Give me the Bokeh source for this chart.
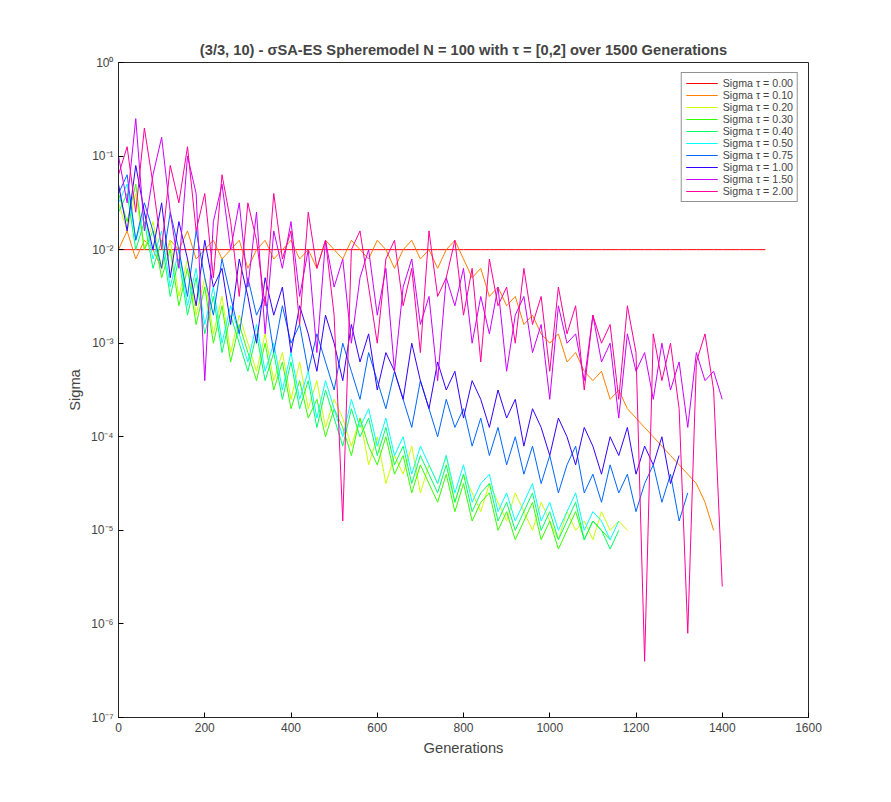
from bokeh.plotting import figure
from bokeh.models import FixedTicker, Range1d, Legend, LegendItem
from bokeh.embed import file_html
from bokeh.resources import INLINE

STEP = 20
taus = ["0.00", "0.10", "0.20", "0.30", "0.40", "0.50", "0.75", "1.00", "1.50", "2.00"]
colors = ["#ff0000", "#ff8000", "#ccff00", "#33ff00", "#00ff66", "#00ffff", "#0066ff", "#3300ff", "#cc00ff", "#ff0099"]

s000 = [-2.0] * 76
s010 = [-2.0,-1.8,-2.1,-1.9,-2.0,-2.2,-1.9,-2.0,-1.8,-2.1,-2.0,-1.9,-2.1,-2.0,-1.9,-2.2,-2.0,-1.9,-2.1,-2.0,-1.9,-2.1,-2.0,-2.2,-1.9,-2.0,-2.1,-1.9,-2.0,-2.1,-1.9,-2.0,-2.2,-2.0,-1.9,-2.1,-2.0,-2.2,-2.0,-1.9,-2.1,-2.3,-2.2,-2.5,-2.4,-2.6,-2.5,-2.8,-2.7,-2.9,-3.0,-2.9,-3.2,-3.1,-3.3,-3.4,-3.3,-3.6,-3.5,-3.7,-3.8,-3.9,-4.0,-4.1,-4.2,-4.3,-4.4,-4.5,-4.7,-5.0]
s020 = [-1.5,-1.8,-1.4,-2.0,-1.7,-2.2,-1.9,-2.5,-2.1,-2.7,-2.3,-2.9,-2.5,-3.1,-2.7,-3.0,-3.3,-2.9,-3.4,-3.1,-3.6,-3.2,-3.7,-3.4,-3.9,-3.6,-3.8,-4.1,-3.8,-4.3,-4.0,-4.5,-4.2,-4.4,-4.1,-4.6,-4.3,-4.5,-4.2,-4.7,-4.4,-4.6,-4.8,-4.5,-4.7,-4.9,-4.6,-4.8,-5.0,-4.7,-4.9,-5.1,-4.8,-5.0,-4.9,-5.1,-4.8,-5.0,-4.9,-5.0]
s030 = [-1.4,-1.7,-1.3,-2.0,-1.8,-2.3,-2.0,-2.6,-2.2,-2.8,-2.4,-3.0,-2.6,-3.2,-2.8,-3.1,-3.4,-3.0,-3.5,-3.2,-3.7,-3.4,-3.8,-3.6,-4.0,-3.7,-3.9,-4.2,-3.8,-4.1,-4.3,-4.0,-4.4,-4.2,-4.6,-4.3,-4.5,-4.7,-4.4,-4.8,-4.5,-4.9,-4.7,-4.6,-5.0,-4.8,-5.1,-4.9,-4.7,-5.1,-4.9,-5.2,-5.0,-4.8,-5.1,-4.9,-5.0,-5.1]
s040 = [-1.6,-1.4,-2.0,-1.7,-2.2,-1.9,-2.5,-2.1,-2.7,-2.3,-2.9,-2.5,-3.1,-2.7,-3.0,-3.3,-2.9,-3.4,-3.1,-3.6,-3.2,-3.7,-3.4,-3.9,-3.5,-3.8,-4.1,-3.7,-4.0,-3.8,-4.2,-3.9,-4.3,-4.1,-4.5,-4.2,-4.4,-4.6,-4.3,-4.7,-4.4,-4.8,-4.6,-4.5,-4.9,-4.7,-5.0,-4.8,-4.6,-5.0,-4.8,-5.1,-4.9,-4.7,-5.1,-4.9,-5.0,-5.2,-5.0]
s050 = [-1.5,-1.3,-1.9,-1.6,-2.1,-1.8,-2.4,-2.0,-2.6,-2.2,-2.8,-2.4,-3.0,-2.6,-2.9,-3.2,-2.8,-3.3,-3.0,-3.5,-3.1,-3.6,-3.3,-3.8,-3.4,-3.7,-4.0,-3.6,-3.9,-3.7,-4.1,-3.8,-4.2,-4.0,-4.4,-4.1,-4.3,-4.5,-4.2,-4.6,-4.3,-4.7,-4.5,-4.4,-4.8,-4.6,-4.9,-4.7,-4.5,-4.9,-4.7,-5.0,-4.8,-4.6,-5.0,-4.8,-4.9,-5.1,-4.9]
s075 = [-1.4,-1.2,-1.9,-1.5,-1.8,-2.2,-1.6,-2.0,-2.5,-1.8,-2.3,-2.7,-2.1,-2.5,-2.9,-2.3,-2.7,-2.5,-3.1,-2.6,-3.0,-2.8,-3.3,-2.9,-3.2,-3.5,-3.0,-3.3,-3.6,-3.1,-3.4,-3.7,-3.3,-3.6,-3.9,-3.4,-3.7,-4.0,-3.6,-3.9,-3.7,-4.1,-3.8,-4.2,-3.9,-4.3,-4.0,-4.4,-4.1,-4.5,-4.2,-4.6,-4.3,-4.1,-4.6,-4.4,-4.7,-4.3,-4.6,-4.4,-4.8,-4.5,-4.3,-4.7,-4.4,-4.9,-4.6]
s100 = [-1.3,-1.8,-1.1,-1.6,-2.0,-1.5,-2.3,-1.7,-2.1,-2.6,-1.9,-2.4,-2.2,-2.8,-2.1,-2.5,-3.0,-2.3,-2.7,-2.4,-3.1,-2.6,-2.9,-3.3,-2.7,-3.0,-3.4,-2.8,-3.2,-2.9,-3.5,-3.1,-3.3,-3.6,-3.0,-3.4,-3.7,-3.2,-3.5,-3.3,-3.8,-3.4,-3.6,-3.9,-3.5,-3.8,-3.6,-4.1,-3.7,-3.9,-4.2,-3.8,-4.0,-4.3,-3.9,-4.1,-4.4,-4.0,-4.2,-3.9,-4.4,-4.1,-4.3,-4.0,-4.5,-4.2]
s150 = [-1.0,-1.5,-0.6,-1.8,-1.2,-0.8,-1.6,-2.2,-1.0,-1.4,-3.4,-1.7,-1.3,-2.0,-1.5,-2.4,-1.6,-2.9,-1.8,-2.2,-1.7,-2.5,-2.0,-3.1,-1.9,-2.4,-2.1,-3.0,-2.3,-2.0,-2.7,-2.2,-3.3,-2.4,-2.1,-2.8,-2.5,-3.4,-2.3,-2.6,-2.2,-3.0,-2.5,-2.9,-2.4,-3.3,-2.7,-2.5,-3.1,-2.8,-3.6,-2.6,-3.0,-2.9,-3.4,-2.7,-3.2,-3.0,-3.8,-2.9,-3.3,-3.1,-3.6,-3.0,-3.5,-3.2,-3.9,-3.1,-3.4,-3.3,-3.6]
s200 = [-1.2,-0.9,-1.6,-0.7,-1.3,-2.0,-1.1,-1.5,-0.9,-1.8,-1.4,-2.3,-1.2,-1.7,-2.5,-1.5,-1.9,-2.6,-1.4,-2.1,-1.8,-2.8,-1.6,-2.2,-1.9,-2.7,-4.9,-2.0,-1.8,-2.4,-3.0,-2.1,-1.9,-2.6,-2.2,-3.1,-1.8,-2.5,-2.3,-1.9,-2.7,-2.2,-3.2,-2.1,-2.6,-2.4,-3.0,-2.2,-2.8,-2.5,-3.3,-2.4,-2.9,-2.6,-3.5,-2.7,-3.0,-2.8,-3.6,-2.6,-3.1,-6.4,-2.9,-3.4,-3.0,-3.7,-6.1,-3.2,-2.9,-3.5,-5.6]
series = [s000, s010, s020, s030, s040, s050, s075, s100, s150, s200]

p = figure(width=875, height=786, y_axis_type="log", output_backend="svg", toolbar_location=None,
           x_range=Range1d(0, 1600), y_range=Range1d(1e-7, 1),
           min_border_left=118, min_border_right=67, min_border_top=62, min_border_bottom=69,
           title="(3/3, 10) - σSA-ES Spheremodel N = 100 with τ = [0,2] over 1500 Generations")
p.title.align = "center"
p.title.text_font = "Liberation Sans"
p.title.text_font_size = "11pt"
p.title.text_font_style = "bold"
p.xgrid.visible = False
p.ygrid.visible = False
p.outline_line_color = "#262626"

items = []
for tau, col, s in zip(taus, colors, series):
    xs = [STEP * i for i in range(len(s))]
    ys = [10 ** v for v in s]
    r = p.line(xs, ys, color=col, line_width=1)
    items.append(LegendItem(label=f"Sigma τ = {tau}", renderers=[r]))

leg = Legend(items=items, location="top_right", label_text_font_size="8pt", label_text_font="Liberation Sans",
             glyph_height=12, glyph_width=32, label_height=12, spacing=0, padding=4, margin=10,
             border_line_color="#262626")
p.add_layout(leg)

p.xaxis.ticker = FixedTicker(ticks=list(range(0, 1601, 200)))
p.yaxis.ticker = FixedTicker(ticks=[10.0 ** k for k in range(-7, 1)])
sup = {0: "⁰", -1: "⁻¹", -2: "⁻²", -3: "⁻³", -4: "⁻⁴", -5: "⁻⁵", -6: "⁻⁶", -7: "⁻⁷"}
p.yaxis.major_label_overrides = {10.0 ** k: "10" + sup[k] for k in range(-7, 1)}
p.yaxis.minor_tick_line_color = None
p.xaxis.axis_label = "Generations"
p.yaxis.axis_label = "Sigma"
for ax in [p.xaxis, p.yaxis]:
    ax.axis_label_text_font = "Liberation Sans"
    ax.axis_label_text_font_style = "normal"
    ax.axis_label_text_font_size = "11pt"
    ax.major_label_text_font = "Liberation Sans"
    ax.major_label_text_font_size = "9pt"
    ax.major_tick_in = 5
    ax.major_tick_out = 0
    ax.axis_line_color = "#262626"

open("out.html", "w").write(file_html(p, INLINE))
